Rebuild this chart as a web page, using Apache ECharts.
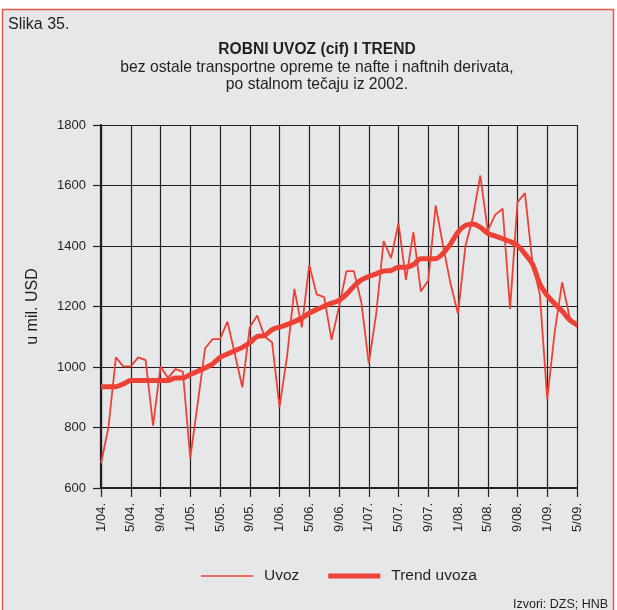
<!DOCTYPE html>
<html><head><meta charset="utf-8">
<script src="https://cdn.jsdelivr.net/npm/echarts@6/dist/echarts.min.js"></script>
<style>html,body{margin:0;padding:0;background:#fff}#c{width:617px;height:610px}</style>
</head><body><div id="c"></div>
<script>
const categories = [
 '1/04.','2/04.','3/04.','4/04.','5/04.','6/04.','7/04.','8/04.','9/04.','10/04.','11/04.','12/04.',
 '1/05.','2/05.','3/05.','4/05.','5/05.','6/05.','7/05.','8/05.','9/05.','10/05.','11/05.','12/05.',
 '1/06.','2/06.','3/06.','4/06.','5/06.','6/06.','7/06.','8/06.','9/06.','10/06.','11/06.','12/06.',
 '1/07.','2/07.','3/07.','4/07.','5/07.','6/07.','7/07.','8/07.','9/07.','10/07.','11/07.','12/07.',
 '1/08.','2/08.','3/08.','4/08.','5/08.','6/08.','7/08.','8/08.','9/08.','10/08.','11/08.','12/08.',
 '1/09.','2/09.','3/09.','4/09.','5/09.'
];
const uvoz = [
 682,800,1032,1002,1002,1032,1023,806,1002,964,993,985,
 699,880,1062,1092,1092,1150,1043,933,1131,1170,1100,1082,
 867,1032,1258,1131,1337,1240,1231,1090,1198,1317,1317,1214,
 1012,1176,1416,1360,1476,1288,1446,1250,1286,1534,1400,1275,
 1176,1400,1495,1633,1451,1503,1523,1192,1545,1575,1347,1240,
 894,1115,1280,1165,1131
];
const trend = [
 935,935,935,944,955,955,955,955,955,955,964,964,
 975,986,997,1010,1032,1043,1054,1065,1080,1101,1104,1123,
 1132,1140,1150,1162,1178,1190,1201,1211,1220,1240,1267,1288,
 1299,1308,1317,1319,1330,1330,1338,1358,1358,1358,1376,1407,
 1446,1468,1473,1462,1442,1433,1424,1415,1402,1374,1341,1275,
 1236,1209,1185,1156,1140
];
const yTicks = {min:600, max:1800, interval:200};
const FONT = '"Liberation Sans", Arial, sans-serif';
const INK = '#231f20';
const RED = '#ee4136';
const chart = echarts.init(document.getElementById('c'), null, {renderer:'canvas'});
chart.setOption({
  animation:false,
  backgroundColor:'#ffffff',
  graphic:[
    {type:'rect', z:-10, shape:{x:2.5, y:9.5, width:611, height:620},
     style:{fill:'#e6e7e9', stroke:'#e8574e', lineWidth:1.5}},
    {type:'text', left:8, top:17, style:{text:'Slika 35.', font:'16px '+FONT, fill:INK}},
    {type:'text', left:513, top:598, style:{text:'Izvori: DZS; HNB', font:'12.5px '+FONT, fill:INK}}
  ],
  title:{
    text:'ROBNI UVOZ (cif) I TREND',
    subtext:'bez ostale transportne opreme te nafte i naftnih derivata,\npo stalnom tečaju iz 2002.',
    left:312, textAlign:'center', top:37, itemGap:1,
    textStyle:{fontFamily:FONT, fontSize:15.6, fontWeight:'bold', color:INK},
    subtextStyle:{fontFamily:FONT, fontSize:15.7, color:INK, lineHeight:17}
  },
  legend:{
    top:563, left:196, itemGap:29, itemWidth:52, itemHeight:14,
    textStyle:{fontFamily:FONT, fontSize:15.5, color:INK, padding:[0,0,0,6]},
    data:[
      {name:'Uvoz', icon:'path://M0,0L52,0L52,1.6L0,1.6Z'},
      {name:'Trend uvoza', icon:'path://M0,0L52,0L52,5.2L0,5.2Z'}
    ]
  },
  grid:{left:101, right:40, top:125, bottom:122},
  xAxis:{
    type:'category', data:categories, boundaryGap:false,
    axisLine:{show:true, lineStyle:{color:INK, width:2.2}},
    axisTick:{show:true, interval:3, length:9, lineStyle:{color:INK, width:1.2}},
    axisLabel:{interval:3, rotate:90, fontFamily:FONT, fontSize:13, color:INK, margin:15},
    splitLine:{show:true, interval:3, lineStyle:{color:INK, width:1.2}}
  },
  yAxis:{
    type:'value', min:yTicks.min, max:yTicks.max, interval:yTicks.interval,
    name:'u mil. USD', nameLocation:'middle', nameGap:60, nameRotate:90,
    nameTextStyle:{fontFamily:FONT, fontSize:16, color:INK},
    axisLine:{show:true, lineStyle:{color:INK, width:2.2}},
    axisTick:{show:true, length:8, lineStyle:{color:INK, width:1.2}},
    axisLabel:{fontFamily:FONT, fontSize:13, color:INK, margin:15, formatter:(v)=>String(v)},
    splitLine:{show:true, lineStyle:{color:INK, width:1.2}}
  },
  series:[
    {name:'Uvoz', type:'line', data:uvoz, symbol:'none',
     itemStyle:{color:RED}, lineStyle:{color:RED, width:1.8}, z:3},
    {name:'Trend uvoza', type:'line', data:trend, symbol:'none', smooth:0.3,
     itemStyle:{color:RED}, lineStyle:{color:RED, width:5}, z:4}
  ]
});
</script></body></html>
